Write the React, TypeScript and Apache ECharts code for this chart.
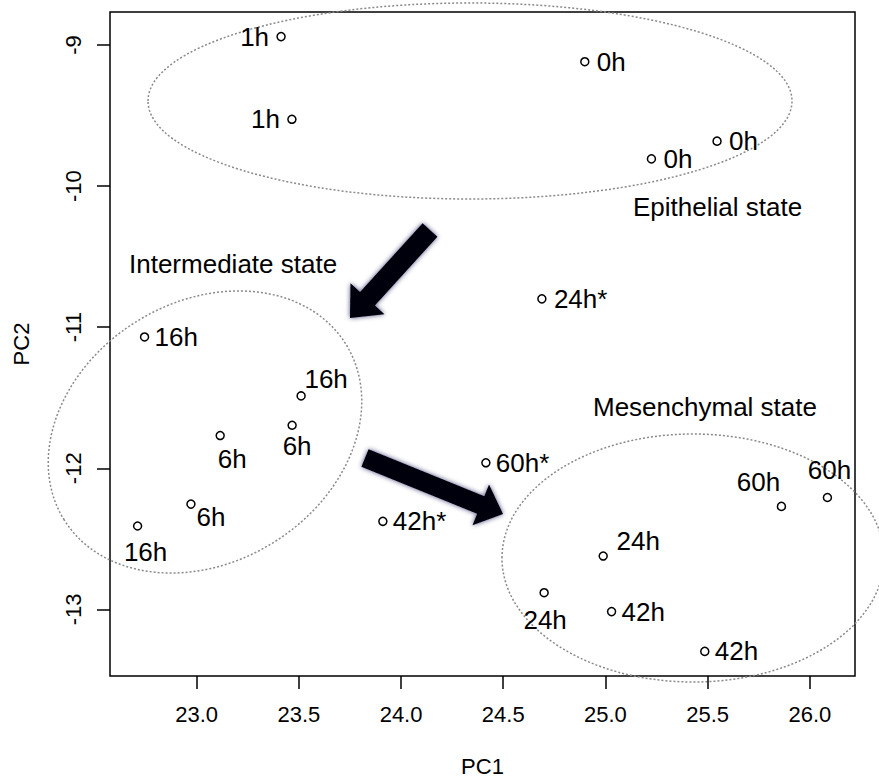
import React, { useEffect, useRef } from "react";
import * as echarts from "echarts";

// ---- data ----
const pc1 = [23.413, 23.466, 24.899, 25.546, 25.225, 24.689, 22.745, 23.511, 23.115, 23.467, 22.972, 22.711, 24.415, 23.911, 25.861, 26.086, 24.989, 24.7, 25.03, 25.486];
const pc2 = [-8.94, -9.526, -9.118, -9.681, -9.807, -10.799, -11.069, -11.487, -11.768, -11.695, -12.254, -12.409, -11.961, -12.376, -12.27, -12.207, -12.622, -12.882, -13.016, -13.298];
const sampleLabels = ["1h", "1h", "0h", "0h", "0h", "24h*", "16h", "16h", "6h", "6h", "6h", "16h", "60h*", "42h*", "60h", "60h", "24h", "24h", "42h", "42h"];
const xTicks = [23.0, 23.5, 24.0, 24.5, 25.0, 25.5, 26.0];
const yTicks = [-13, -12, -11, -10, -9];
const stateNames = ["Epithelial state", "Intermediate state", "Mesenchymal state"];
const xTitle = "PC1";
const yTitle = "PC2";

// ---- label placement (style only): [align, dx, dy] relative to the point ----
const labelPlacement: Array<[string, number, number]> = [
  ["right", -12, 0],
  ["right", -12, 0],
  ["left", 12, 0],
  ["left", 12, 0],
  ["left", 12, 0],
  ["left", 12, 0],
  ["left", 10, 0],
  ["center", 25, -17],
  ["center", 12, 23],
  ["center", 5, 21],
  ["center", 20, 13],
  ["center", 8, 26],
  ["left", 10, 0],
  ["left", 10, 0],
  ["center", -23, -24],
  ["center", 2, -27],
  ["center", 35, -15],
  ["center", 1, 27],
  ["left", 10, 0],
  ["left", 10, 0],
];

const FONT = '"Liberation Sans", Arial, Helvetica, sans-serif';

function rRange(arr: number[]): [number, number] {
  const mn = Math.min(...arr);
  const mx = Math.max(...arr);
  const r = mx - mn;
  return [mn - 0.04 * r, mx + 0.04 * r];
}

function arrowPolygon(tail: number[], tip: number[], shaftW: number, headW: number, headL: number) {
  const dx = tip[0] - tail[0];
  const dy = tip[1] - tail[1];
  const L = Math.hypot(dx, dy);
  const ux = dx / L, uy = dy / L;
  const px = -uy, py = ux;
  const bx = tip[0] - ux * headL, by = tip[1] - uy * headL;
  const s = shaftW / 2, h = headW / 2;
  return [
    [tail[0] + px * s, tail[1] + py * s],
    [bx + px * s, by + py * s],
    [bx + px * h, by + py * h],
    [tip[0], tip[1]],
    [bx - px * h, by - py * h],
    [bx - px * s, by - py * s],
    [tail[0] - px * s, tail[1] - py * s],
  ];
}

export default function App() {
  const ref = useRef<HTMLDivElement>(null);

  useEffect(() => {
    if (!ref.current) return;
    const chart = echarts.init(ref.current, null, { renderer: "svg" });
    const [xmin, xmax] = rRange(pc1);
    const [ymin, ymax] = rRange(pc2);

    const data = pc1.map((x, i) => {
      const [align, dx, dy] = labelPlacement[i];
      return {
        value: [x, pc2[i]],
        label: {
          show: true,
          formatter: sampleLabels[i],
          position: "inside",
          align,
          verticalAlign: "middle",
          offset: [dx, dy],
          fontSize: 26,
          color: "#000",
          fontFamily: FONT,
        },
      };
    });

    const ellipseStyle = { fill: "none", stroke: "#8a8a8a", lineWidth: 1.5, lineDash: [2, 2] };
    const arrowStyle = { fill: "#05050f", shadowBlur: 5, shadowColor: "rgba(20,20,70,0.7)" };
    const textStyle = (t: string) => ({ text: t, fontSize: 26, fontFamily: FONT, fill: "#000", align: "left", verticalAlign: "middle" });

    chart.setOption({
      animation: false,
      backgroundColor: "#fff",
      grid: { left: 110, right: 24, top: 12, bottom: 103, show: true, borderColor: "#000", borderWidth: 1.5, backgroundColor: "transparent" },
      xAxis: {
        type: "value",
        min: xmin,
        max: xmax,
        name: xTitle,
        nameLocation: "middle",
        nameGap: 79,
        nameTextStyle: { fontSize: 22, color: "#000", fontFamily: FONT },
        axisLine: { show: false },
        splitLine: { show: false },
        axisTick: { show: true, length: 13, lineStyle: { color: "#000", width: 1.5 }, customValues: xTicks },
        axisLabel: { customValues: xTicks, formatter: (v: number) => v.toFixed(1), fontSize: 22, color: "#000", fontFamily: FONT, margin: 27 },
      },
      yAxis: {
        type: "value",
        min: ymin,
        max: ymax,
        name: yTitle,
        nameLocation: "middle",
        nameGap: 78,
        nameRotate: 90,
        nameTextStyle: { fontSize: 22, color: "#000", fontFamily: FONT },
        axisLine: { show: false },
        splitLine: { show: false },
        axisTick: { show: true, length: 13, lineStyle: { color: "#000", width: 1.5 }, customValues: yTicks },
        axisLabel: { customValues: yTicks, formatter: (v: number) => String(v), rotate: 90, fontSize: 22, color: "#000", fontFamily: FONT, margin: 26 },
      },
      series: [
        {
          type: "scatter",
          symbol: "circle",
          symbolSize: 8,
          silent: true,
          clip: false,
          itemStyle: { color: "#fff", borderColor: "#000", borderWidth: 1.5, opacity: 1 },
          data,
        },
      ],
      graphic: [
        { type: "ellipse", silent: true, shape: { cx: 470, cy: 101, rx: 322, ry: 98 }, style: ellipseStyle },
        { type: "ellipse", silent: true, x: 205, y: 432, rotation: (32 * Math.PI) / 180, shape: { cx: 0, cy: 0, rx: 166, ry: 130 }, style: ellipseStyle },
        { type: "ellipse", silent: true, shape: { cx: 693, cy: 558, rx: 191, ry: 124 }, style: ellipseStyle },
        { type: "polygon", silent: true, shape: { points: arrowPolygon([430, 230], [350, 318], 20, 46, 26) }, style: arrowStyle },
        { type: "polygon", silent: true, shape: { points: arrowPolygon([365, 458], [503, 514], 19, 44, 24) }, style: arrowStyle },
        { type: "text", silent: true, x: 633, y: 207, style: textStyle(stateNames[0]) },
        { type: "text", silent: true, x: 129, y: 264, style: textStyle(stateNames[1]) },
        { type: "text", silent: true, x: 593, y: 407, style: textStyle(stateNames[2]) },
      ],
    });

    return () => chart.dispose();
  }, []);

  return <div ref={ref} style={{ position: "fixed", left: 0, top: 0, width: 879, height: 782 }} />;
}
